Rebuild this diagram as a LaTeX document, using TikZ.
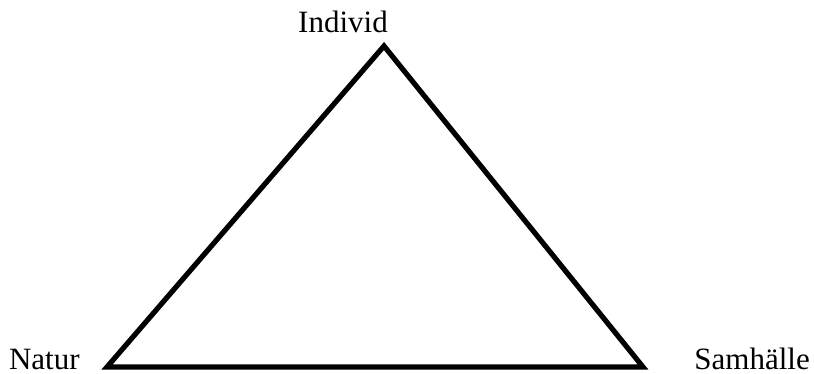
\documentclass[tikz,border=0pt]{standalone}
\usepackage{fontspec}
\setmainfont{Liberation Serif}
\usepackage{tikz}
\usetikzlibrary{positioning, calc}

\begin{document}
\begin{tikzpicture}[x=0.5pt,y=-0.5pt,every node/.style={font=\fontsize{15.5}{18}\selectfont,inner sep=0pt}]
  \useasboundingbox (0,0) rectangle (814,374);
  \coordinate (top) at (384,46);
  \coordinate (left) at (107,367);
  \coordinate (right) at (643,367);
  \node[anchor=base] (individ) at (343,33) {Individ};
  \node[anchor=base east] (natur) at (80,369) {Natur};
  \node[anchor=base west] (samhalle) at (694,369) {Samhälle};
  \draw[line width=2.6pt] (left)--(top)--(right)--cycle;
\end{tikzpicture}
\end{document}
